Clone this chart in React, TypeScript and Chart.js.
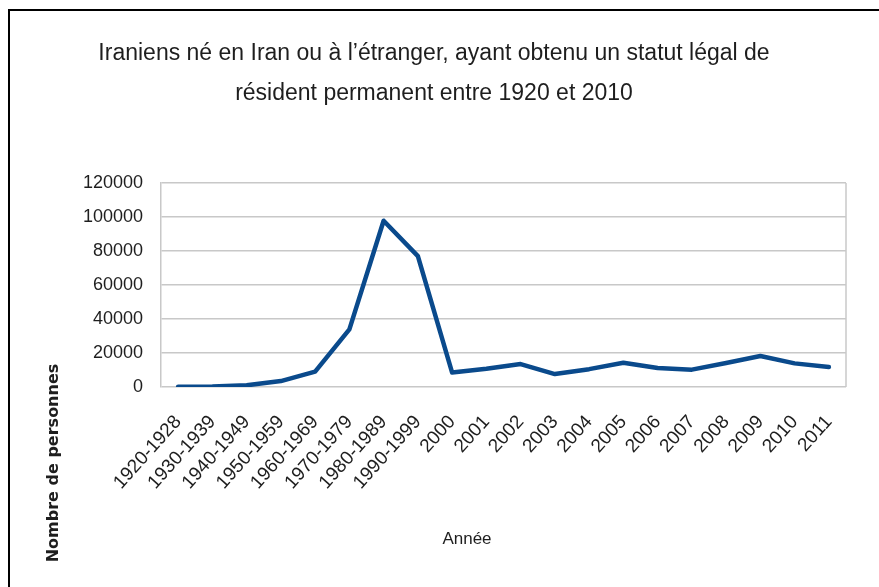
import React, { useEffect, useRef } from "react";
import { Chart, registerables } from "chart.js";

Chart.register(...registerables);

const categories: string[] = [
  "1920-1928", "1930-1939", "1940-1949", "1950-1959", "1960-1969", "1970-1979",
  "1980-1989", "1990-1999", "2000", "2001", "2002", "2003", "2004", "2005",
  "2006", "2007", "2008", "2009", "2010", "2011",
];

const persons: number[] = [
  200, 300, 1000, 3500, 9000, 33900, 97800, 77000, 8500, 10700, 13500, 7600,
  10500, 14300, 11200, 10200, 14100, 18200, 13900, 11700,
];

const yMin = 0;
const yMax = 120000;
const yStep = 20000;

const titleLines: string[] = [
  "Iraniens né en Iran ou à l’étranger, ayant obtenu un statut légal de",
  "résident permanent entre 1920 et 2010",
];
const xTitle = "Année";
const yTitle = "Nombre de personnes";

const FONT = "'Liberation Sans', Arial, sans-serif";
const TEXT = "#1e1e1e";
const GRID = "#c8c8c8";
const LINE = "#0a4a8c";

const W = 879;
const H = 587;

const decorPlugin = {
  id: "decor",
  afterDraw(chart: any) {
    const ctx = chart.ctx as CanvasRenderingContext2D;
    const a = chart.chartArea;
    ctx.save();
    // plot right border
    ctx.strokeStyle = GRID;
    ctx.lineWidth = 1.5;
    ctx.beginPath();
    ctx.moveTo(a.right, a.top);
    ctx.lineTo(a.right, a.bottom);
    ctx.stroke();
    // title
    ctx.fillStyle = TEXT;
    ctx.textAlign = "center";
    ctx.textBaseline = "alphabetic";
    ctx.font = `23px ${FONT}`;
    ctx.fillText(titleLines[0], 434, 60);
    ctx.fillText(titleLines[1], 434, 100);
    // x title
    ctx.font = `17px ${FONT}`;
    ctx.fillText(xTitle, 467, 544);
    // y title
    ctx.translate(58, 463);
    ctx.rotate(-Math.PI / 2);
    ctx.font = `bold 16px 'DejaVu Sans', sans-serif`;
    ctx.fillText(yTitle, 0, 0);
    ctx.restore();
  },
};

export default function App() {
  const ref = useRef<HTMLCanvasElement | null>(null);

  useEffect(() => {
    if (!ref.current) return;
    const chart = new Chart(ref.current, {
      type: "line",
      data: {
        labels: categories,
        datasets: [
          {
            data: persons,
            borderColor: LINE,
            backgroundColor: LINE,
            borderWidth: 4.5,
            pointRadius: 0,
            tension: 0,
            borderJoinStyle: "round",
            borderCapStyle: "round",
            fill: false,
          },
        ],
      },
      options: {
        responsive: false,
        animation: false,
        layout: { padding: { top: 183, right: 33, left: 0, bottom: 0 } },
        plugins: {
          legend: { display: false },
          tooltip: { enabled: false },
          title: { display: false },
        },
        scales: {
          x: {
            offset: true,
            grid: { display: false, drawTicks: false },
            border: { display: false },
            ticks: {
              autoSkip: false,
              minRotation: 48,
              maxRotation: 48,
              padding: 24,
              color: TEXT,
              font: { family: FONT, size: 19 },
            },
            afterFit: (s: any) => {
              s.height = H - 387;
            },
          },
          y: {
            min: yMin,
            max: yMax,
            grid: { color: GRID, lineWidth: 1.5, drawTicks: false },
            border: { display: true, color: GRID, width: 1.5 },
            ticks: {
              stepSize: yStep,
              padding: 18,
              color: TEXT,
              font: { family: FONT, size: 18 },
              callback: (v: any) => String(v),
            },
            afterFit: (s: any) => {
              s.width = 161;
            },
          },
        },
      },
      plugins: [decorPlugin],
    });
    return () => chart.destroy();
  }, []);

  return (
    <div style={{ position: "fixed", left: 0, top: 0, width: W, height: H, background: "#fff", overflow: "hidden" }}>
      <canvas ref={ref} width={W} height={H} style={{ position: "absolute", left: 0, top: 0, width: W, height: H }} />
      <div
        style={{
          position: "absolute",
          left: 8,
          top: 9,
          width: W,
          height: H,
          borderLeft: "2px solid #000",
          borderTop: "2px solid #000",
          pointerEvents: "none",
        }}
      />
    </div>
  );
}
